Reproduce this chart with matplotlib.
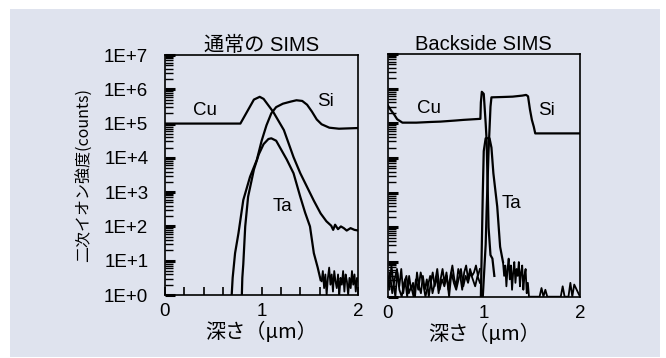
import numpy as np
import matplotlib
matplotlib.use("Agg")
import matplotlib.pyplot as plt
from matplotlib.patches import Rectangle
from matplotlib.ticker import LogLocator, FixedLocator, MultipleLocator, NullFormatter

# ---- data: depth (um) and log10(counts) ----
# conventional (front side) SIMS
cu_front_x = [0.0, 0.78, 0.85, 0.92, 0.98, 1.02, 1.12, 1.23, 1.33, 1.40, 1.47, 1.54, 1.61,
              1.67, 1.72, 1.74, 1.76, 1.79, 1.82, 1.85, 1.88, 1.92, 1.96, 2.0]
cu_front_y = [5.0, 5.0, 5.35, 5.7, 5.78, 5.72, 5.34, 4.81, 4.02, 3.55, 3.15, 2.75, 2.38,
              2.15, 2.02, 1.9, 2.05, 1.92, 2.0, 1.95, 1.88, 1.95, 1.9, 1.88]
si_front_x = [0.69, 0.70, 0.725, 0.76, 0.81, 0.88, 0.95, 1.0, 1.05, 1.1, 1.15, 1.22, 1.3,
              1.36, 1.42, 1.47, 1.52, 1.57, 1.62, 1.7, 1.8, 1.9, 2.0]
si_front_y = [0.0, 0.5, 1.22, 1.8, 2.77, 3.45, 3.94, 4.5, 4.95, 5.3, 5.48, 5.58, 5.64,
              5.68, 5.66, 5.55, 5.35, 5.12, 4.98, 4.88, 4.85, 4.86, 4.87]
ta_front_x = [0.795, 0.80, 0.81, 0.83, 0.86, 0.92, 0.97, 1.02, 1.07, 1.1, 1.15, 1.2, 1.26,
              1.33, 1.40, 1.45, 1.50, 1.54, 1.58, 1.61]
ta_front_y = [0.0, 0.5, 0.9, 2.0, 2.87, 3.66, 4.1, 4.4, 4.55, 4.57, 4.5, 4.25, 3.95,
              3.55, 2.86, 2.4, 2.0, 1.22, 0.8, 0.44]
ta_front_noise = [0.4, 0.7, 0.2, 0.6, 0.0, 0.5, 0.8, 0.3, 0.6, 0.1, 0.7, 0.4, 0.2, 0.6, 0.0,
                  0.5, 0.3, 0.7, 0.1, 0.6, 0.4, 0.0, 0.5, 0.2, 0.7, 0.3, 0.6, 0.1, 0.5, 0.4]

# backside SIMS
cu_back_x = [0.0, 0.03, 0.07, 0.1, 0.155, 0.3, 0.45, 0.55, 0.7, 0.79, 0.965, 0.97, 0.98,
             1.0, 1.02, 1.03, 1.05, 1.07, 1.09, 1.11]
cu_back_y = [5.53, 5.4, 5.25, 5.12, 5.02, 5.02, 5.04, 5.05, 5.08, 5.1, 5.13, 5.6, 5.91,
             5.85, 5.0, 4.5, 2.0, 1.2, 1.1, 0.6]
si_back_x = [0.99, 1.0, 1.02, 1.03, 1.05, 1.07, 1.08, 1.2, 1.3, 1.4, 1.44, 1.46, 1.48,
             1.5, 1.52, 1.535, 2.0]
si_back_y = [0.0, 0.5, 1.5, 2.5, 4.2, 5.48, 5.75, 5.76, 5.77, 5.8, 5.82, 5.78, 5.4,
             5.1, 4.9, 4.71, 4.71]
ta_back_x = [0.97, 0.98, 0.99, 1.0, 1.02, 1.06, 1.08, 1.1, 1.14, 1.17, 1.2]
ta_back_y = [0.0, 1.5, 3.0, 4.2, 4.57, 4.57, 4.3, 3.56, 2.6, 1.44, 1.0]
si_back_noise = [0.6, 0.2, 0.9, 0.4, 0.0, 0.7, 0.3, 0.8, 0.1, 0.5, 0.0, 0.6, 0.2, 0.4, 0.0,
                 0.7, 0.3, 0.1, 0.6, 0.2, 0.5, 0.0, 0.4, 0.7, 0.3, 0.6, 0.1, 0.5, 0.8, 0.4,
                 0.7, 0.2, 0.6, 0.9, 0.5, 0.3, 0.8, 0.6, 0.2, 0.7, 0.9, 0.5, 0.8, 0.6, 0.7,
                 0.9, 0.6, 0.8]
ta_back_noise = [0.3, 0.7, 0.1, 0.5, 0.8, 0.2, 0.0, 0.4, 0.6, 0.1, 0.3, 0.0, 0.5, 0.2, 0.7,
                 0.4, 0.0, 0.3, 0.6, 0.1, 0.4, 0.8, 0.2, 0.5, 0.3, 0.6, 0.0, 0.7, 0.4, 0.2,
                 0.5, 0.8, 0.3, 0.6, 0.4, 0.7, 0.5, 0.3, 0.6, 0.4]
tail_back_noise = [1.0, 0.6, 0.9, 0.3, 0.8, 1.1, 0.5, 0.9, 0.2, 0.7, 1.0, 0.4, 0.8, 0.6,
                   1.0, 0.3, 0.7, 0.9, 0.2, 0.6, 0.8, 0.1, 0.4, 0.0]
spike_back_x = [1.47, 1.58, 1.60, 1.62, 1.64, 1.66, 1.80, 1.82, 1.84, 1.88, 1.90, 1.92, 1.94, 2.0]
spike_back_y = [0.0, 0.0, 0.25, 0.0, 0.2, 0.0, 0.0, 0.3, 0.0, 0.0, 0.4, 0.0, 0.35, 0.0]

y_ticks = [1e0, 1e1, 1e2, 1e3, 1e4, 1e5, 1e6, 1e7]
y_labels = ["1E+0", "1E+1", "1E+2", "1E+3", "1E+4", "1E+5", "1E+6", "1E+7"]

LATIN = ["Liberation Sans", "Noto Sans CJK JP"]
CJK = ["Noto Sans CJK JP", "DejaVu Sans"]
BG = "#dfe3ee"

fig = plt.figure(figsize=(6.66, 3.58), dpi=100, facecolor="white")
fig.patches.append(Rectangle((10 / 666, 1 / 358), 650 / 666, 348 / 358,
                             transform=fig.transFigure, facecolor=BG, edgecolor="none", zorder=-10))


def lin(x0, x1, n):
    return np.linspace(x0, x1, n)


def style_axes(ax, title, show_ylabels, x_minor):
    ax.set_facecolor("none")
    ax.set_yscale("log")
    ax.set_xlim(0, 2)
    ax.set_ylim(1, 1e7)
    for s in ax.spines.values():
        s.set_linewidth(1.2)
    ax.yaxis.set_major_locator(FixedLocator(y_ticks))
    ax.yaxis.set_minor_locator(LogLocator(base=10, subs=np.arange(2, 10), numticks=20))
    ax.yaxis.set_minor_formatter(NullFormatter())
    if show_ylabels:
        ax.set_yticklabels(y_labels, fontfamily=LATIN, fontsize=13.5)
    else:
        ax.set_yticklabels([])
    ax.tick_params(axis="y", which="major", direction="in", length=7, width=2.2, pad=12)
    ax.tick_params(axis="y", which="minor", direction="in", length=6, width=1.0)
    ax.set_xticks([0, 1, 2])
    ax.set_xticklabels(["0", "1", "2"], fontfamily=LATIN, fontsize=13.5)
    if x_minor:
        ax.xaxis.set_minor_locator(MultipleLocator(0.2))
        ax.tick_params(axis="x", which="both", direction="in", length=6, width=1.2, pad=6)
    else:
        ax.tick_params(axis="x", which="major", direction="in", length=0, pad=6)
    ax.set_title(title, fontfamily=LATIN, fontsize=14.5, pad=3)
    ax.set_xlabel("深さ（μm）", fontfamily=CJK, fontsize=14.5, labelpad=1)


def curve(ax, xs, logs, lw=1.6):
    ax.plot(xs, 10 ** np.asarray(logs, dtype=float), color="black", lw=lw, clip_on=True)


# left: conventional SIMS
ax1 = fig.add_axes([165 / 666, 63 / 358, 193.3 / 666, 240 / 358])
style_axes(ax1, "通常の SIMS", True, True)
curve(ax1, cu_front_x, cu_front_y)
curve(ax1, si_front_x, si_front_y)
curve(ax1, ta_front_x, ta_front_y)
curve(ax1, lin(1.62, 2.0, len(ta_front_noise)), ta_front_noise, lw=1.3)
ax1.text(0.41, 10 ** 5.39, "Cu", fontfamily=LATIN, fontsize=13.5, ha="center", va="center")
ax1.text(1.66, 10 ** 5.63, "Si", fontfamily=LATIN, fontsize=13.5, ha="center", va="center")
ax1.text(1.22, 10 ** 2.57, "Ta", fontfamily=LATIN, fontsize=13.5, ha="center", va="center")
ax1.set_ylabel("二次イオン強度(counts)", fontfamily=CJK, fontsize=11.5, labelpad=8)

# right: backside SIMS
ax2 = fig.add_axes([387.5 / 666, 61.3 / 358, 192.5 / 666, 242.7 / 358])
style_axes(ax2, "Backside SIMS", False, False)
curve(ax2, cu_back_x, cu_back_y)
curve(ax2, si_back_x, si_back_y)
curve(ax2, ta_back_x, ta_back_y)
curve(ax2, lin(0.0, 0.96, len(si_back_noise)), si_back_noise, lw=1.3)
curve(ax2, lin(0.0, 0.96, len(ta_back_noise)), ta_back_noise, lw=1.3)
curve(ax2, lin(1.2, 1.47, len(tail_back_noise)), tail_back_noise, lw=1.3)
curve(ax2, spike_back_x, spike_back_y, lw=1.3)
ax2.text(0.43, 10 ** 5.43, "Cu", fontfamily=LATIN, fontsize=13.5, ha="center", va="center")
ax2.text(1.655, 10 ** 5.38, "Si", fontfamily=LATIN, fontsize=13.5, ha="center", va="center")
ax2.text(1.29, 10 ** 2.69, "Ta", fontfamily=LATIN, fontsize=13.5, ha="center", va="center")

fig.savefig("out.png", dpi=100, facecolor=fig.get_facecolor())
